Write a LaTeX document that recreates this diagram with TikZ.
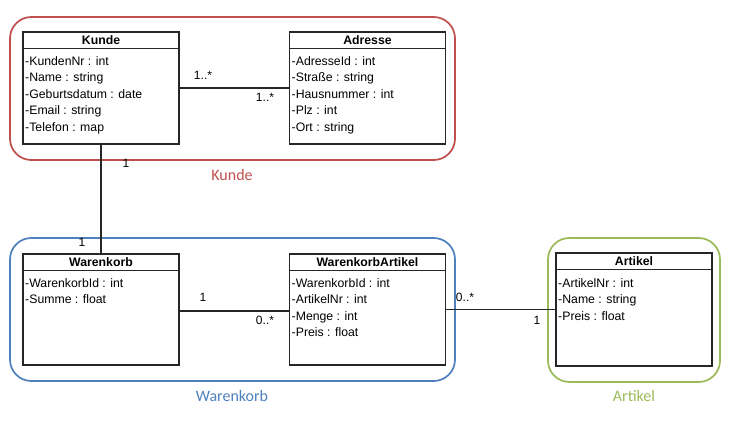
\documentclass[tikz,border=0pt]{standalone}
\usepackage{fontspec}
\setmainfont{Liberation Sans}
\newfontfamily\calib{Carlito}
\usetikzlibrary{calc}
\definecolor{grpred}{HTML}{C0504D}
\definecolor{grpblue}{HTML}{4F81BD}
\definecolor{grpgreen}{HTML}{9BBB59}
\tikzset{
  classbox/.style={draw=black!85, line width=0.8pt, minimum width=156*0.75pt, minimum height=112*0.75pt, inner sep=0pt},
  ctitle/.style={font=\fontsize{9.2}{11}\selectfont\bfseries, inner sep=0pt, text height=6.6pt, text depth=1.9pt},
  attr/.style={font=\fontsize{9.2}{11}\selectfont, anchor=west, inner sep=0pt, text height=6.6pt, text depth=1.9pt},
  mult/.style={font=\fontsize{9}{11}\selectfont, inner sep=0pt},
  grp/.style={line width=1.3pt, rounded corners=16pt},
  grplabel/.style={font=\calib\fontsize{12}{14}\selectfont, inner sep=0pt},
  assoc/.style={draw=black!85, line width=0.8pt}
}
\begin{document}
\begin{tikzpicture}[x=0.75pt,y=-0.75pt]
\useasboundingbox (0,0) rectangle (739,424);
% groups
\draw[grp, grpred] (10,17) rectangle (455,160);
\draw[grp, grpblue] (10,238) rectangle (455,381);
\draw[grp, grpgreen] (548,238) rectangle (720,382);
\node[grplabel, text=grpred] (lk) at (232,175) {Kunde};
\node[grplabel, text=grpblue] (lw) at (232,396) {Warenkorb};
\node[grplabel, text=grpgreen] (la) at (634,396) {Artikel};
% classes
\node[classbox] (kunde) at (101,88) {};
\node[classbox] (adresse) at (367.5,88) {};
\node[classbox, minimum height=111*0.75pt] (warenkorb) at (101,309.5) {};
\node[classbox, minimum height=111*0.75pt] (wkartikel) at (367.5,309.5) {};
\node[classbox, minimum height=113*0.75pt] (artikel) at (634,309.5) {};
\foreach \c/\t in {kunde/Kunde, adresse/Adresse, warenkorb/Warenkorb, wkartikel/WarenkorbArtikel, artikel/Artikel}{
  \draw[draw=black!85, line width=0.8pt] ($(\c.north west)+(0,17)$) -- ($(\c.north east)+(0,17)$);
  \node[ctitle] (\c-t) at ($(\c.north)+(0,10)$) {\t};
}
\foreach \t [count=\i] in {-KundenNr : int, -Name : string, -Geburtsdatum : date, -Email : string, -Telefon : map}
  \node[attr] (kunde-\i) at ($(kunde.north west)+(2.5,{30.5+(\i-1)*16.6})$) {\t};
\foreach \t [count=\i] in {-AdresseId : int, -Straße : string, -Hausnummer : int, -Plz : int, -Ort : string}
  \node[attr] (adresse-\i) at ($(adresse.north west)+(2.5,{30.5+(\i-1)*16.6})$) {\t};
\foreach \t [count=\i] in {-WarenkorbId : int, -Summe : float}
  \node[attr] (warenkorb-\i) at ($(warenkorb.north west)+(2.5,{30.5+(\i-1)*16.6})$) {\t};
\foreach \t [count=\i] in {-WarenkorbId : int, -ArtikelNr : int, -Menge : int, -Preis : float}
  \node[attr] (wkartikel-\i) at ($(wkartikel.north west)+(2.5,{30.5+(\i-1)*16.6})$) {\t};
\foreach \t [count=\i] in {-ArtikelNr : int, -Name : string, -Preis : float}
  \node[attr] (artikel-\i) at ($(artikel.north west)+(2.5,{31.5+(\i-1)*16.8})$) {\t};
% associations
\draw[assoc] (kunde.east) -- (adresse.west);
\draw[assoc] (kunde.south) -- (warenkorb.north);
\draw[assoc] ($(warenkorb.east)+(0,1.5)$) -- ($(wkartikel.west)+(0,1.5)$);
\draw[assoc] (wkartikel.east) -- (artikel.west);
% multiplicities
\node[mult] (m1) at (203,75) {1..*};
\node[mult] (m2) at (265,97) {1..*};
\node[mult] (m3) at (126,163) {1};
\node[mult] (m4) at (82,242) {1};
\node[mult] (m5) at (203,297) {1};
\node[mult] (m6) at (265,320) {0..*};
\node[mult] (m7) at (465,297) {0..*};
\node[mult] (m8) at (537,320) {1};
\end{tikzpicture}
\end{document}
